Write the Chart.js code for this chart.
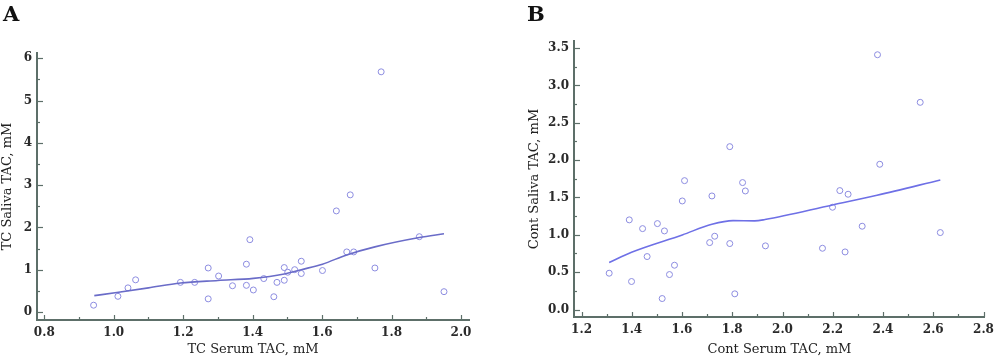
<!DOCTYPE html>
<html>
<head>
<meta charset="utf-8">
<script src="https://cdn.jsdelivr.net/npm/chart.js@4.4.1/dist/chart.umd.min.js"></script>
<style>
  html, body { margin:0; padding:0; background:#fff; }
  #wrap { position:relative; width:1000px; height:360px; overflow:hidden; }
  .panel { position:absolute; top:0; width:500px; height:360px; }
  .letter { position:absolute; top:1px; font-family:"DejaVu Serif", serif; font-weight:bold; font-size:21px; color:#111; }
</style>
</head>
<body>
<div id="wrap">
  <div class="panel" style="left:0"><canvas id="cA" width="500" height="360"></canvas></div>
  <div class="panel" style="left:500px"><canvas id="cB" width="500" height="360"></canvas></div>
  <div class="letter" style="left:3px">A</div>
  <div class="letter" style="left:527px">B</div>
</div>
<script>
// ---------- Panel A data ----------
const aSerum  = [0.942,1.012,1.041,1.063,1.192,1.233,1.272,1.272,1.302,1.342,1.382,1.382,1.392,1.402,1.432,1.461,1.470,1.491,1.491,1.501,1.521,1.540,1.540,1.601,1.641,1.671,1.681,1.691,1.752,1.770,1.880,1.951];
const aSaliva = [0.16,0.37,0.57,0.76,0.70,0.70,1.04,0.31,0.85,0.62,1.13,0.63,1.71,0.52,0.79,0.36,0.70,1.05,0.75,0.94,1.00,1.20,0.91,0.98,2.39,1.42,2.77,1.42,1.04,5.68,1.78,0.48];
const aFitX = [0.944,1.009,1.100,1.192,1.300,1.402,1.491,1.540,1.601,1.671,1.752,1.880,1.951];
const aFitY = [0.386,0.46,0.57,0.685,0.745,0.795,0.90,1.00,1.13,1.35,1.54,1.76,1.85];
const aXTicks = [0.8,1.0,1.2,1.4,1.6,1.8,2.0];
const aYTicks = [0,1,2,3,4,5,6];

// ---------- Panel B data ----------
const bSerum  = [1.310,1.390,1.399,1.443,1.461,1.502,1.530,1.521,1.550,1.570,1.601,1.610,1.710,1.719,1.730,1.790,1.790,1.810,1.841,1.852,1.932,2.159,2.199,2.228,2.249,2.261,2.317,2.378,2.387,2.548,2.628];
const bSaliva = [0.486,1.20,0.375,1.083,0.709,1.150,1.052,0.147,0.468,0.593,1.453,1.725,0.896,1.520,0.981,2.18,0.883,0.21,1.699,1.587,0.852,0.820,1.369,1.592,0.771,1.543,1.115,3.41,1.944,2.773,1.030];
const bFitX = [1.310,1.399,1.601,1.719,1.803,1.889,1.930,2.199,2.376,2.628];
const bFitY = [0.629,0.767,0.999,1.141,1.19,1.186,1.204,1.40,1.529,1.734];
const bXTicks = [1.2,1.4,1.6,1.8,2.0,2.2,2.4,2.6,2.8];
const bYTicks = [0.0,0.5,1.0,1.5,2.0,2.5,3.0,3.5];

const AXIS = '#5d6f69';
const PT = '#8c8ce0';

function pts(xs, ys){ return xs.map((x,i)=>({x:x, y:ys[i]})); }

// inward tick marks drawn through the chart's scales
const tickPlugin = {
  id:'inTicks',
  afterDraw(chart, args, opts){
    const ctx = chart.ctx, xs = chart.scales.x, ys = chart.scales.y;
    const ca = chart.chartArea;
    ctx.save();
    ctx.strokeStyle = AXIS; ctx.lineWidth = 1.2;
    const drawX = (v, len) => { const p = Math.round(xs.getPixelForValue(v))+0.5; ctx.beginPath(); ctx.moveTo(p, ca.bottom); ctx.lineTo(p, ca.bottom-len); ctx.stroke(); };
    const drawY = (v, len) => { const p = Math.round(ys.getPixelForValue(v))+0.5; ctx.beginPath(); ctx.moveTo(ca.left, p); ctx.lineTo(ca.left+len, p); ctx.stroke(); };
    opts.xMajor.forEach(v=>drawX(v,5));
    opts.yMajor.forEach(v=>drawY(v,6));
    for (let i=0;i<opts.xMajor.length-1;i++) drawX((opts.xMajor[i]+opts.xMajor[i+1])/2,3);
    for (let i=0;i<opts.yMajor.length-1;i++) drawY((opts.yMajor[i]+opts.yMajor[i+1])/2,3);
    ctx.restore();
  }
};

function makeChart(id, cfg){
  const tickFont = {family:'"DejaVu Serif", serif', size:12, weight:'bold'};
  const titleFont = {family:'"DejaVu Serif", serif', size:13};
  return new Chart(document.getElementById(id), {
    data: {
      datasets: [
        { type:'scatter', data: pts(cfg.sx, cfg.sy), pointStyle:'circle', pointRadius:3, pointBorderWidth:1,
          borderColor: PT, backgroundColor:'rgba(0,0,0,0)', showLine:false, order:2 },
        { type:'line', data: pts(cfg.fx, cfg.fy), borderColor: cfg.lineColor, borderWidth:1.6, pointRadius:0,
          fill:false, tension:0.3, cubicInterpolationMode:'monotone', order:1 }
      ]
    },
    options: {
      responsive:false, animation:false, devicePixelRatio:1,
      layout:{ padding:{ left:0, right:cfg.padRight, top:cfg.padTop, bottom:0 } },
      plugins:{ legend:{display:false}, tooltip:{enabled:false}, inTicks:{ xMajor:cfg.xTicks, yMajor:cfg.yTicks } },
      scales:{
        x:{ type:'linear', min:cfg.xMin, max:cfg.xMax,
            afterBuildTicks: s => { s.ticks = cfg.xTicks.map(v=>({value:v})); },
            afterFit: s => { s.height = cfg.xH; },
            grid:{ display:false, drawTicks:false },
            border:{ display:true, color:AXIS, width:2 },
            ticks:{ padding:6, color:'#2a2a2a', font:tickFont, callback: v => Number(v).toFixed(1) },
            title:{ display:true, text:cfg.xTitle, color:'#222', font:titleFont, padding:{top:0,bottom:3} } },
        y:{ type:'linear', min:cfg.yMin, max:cfg.yMax,
            afterBuildTicks: s => { s.ticks = cfg.yTicks.map(v=>({value:v})); },
            afterFit: s => { s.width = cfg.yW; },
            grid:{ display:false, drawTicks:false },
            border:{ display:true, color:AXIS, width:2 },
            ticks:{ padding:5, color:'#2a2a2a', font:tickFont, callback: v => cfg.yFmt(v) },
            title:{ display:true, text:cfg.yTitle, color:'#222', font:titleFont, padding:{top:cfg.yTitlePad,bottom:0} } }
      }
    },
    plugins:[tickPlugin]
  });
}

makeChart('cA', {
  sx:aSerum, sy:aSaliva, fx:aFitX, fy:aFitY, lineColor:'#6a6cc8',
  xTicks:aXTicks, yTicks:aYTicks, xMin:0.779, xMax:2.023, yMin:-0.19, yMax:6.125,
  padRight:31, padTop:53, xH:40, yW:37, yTitlePad:0,
  xTitle:'TC Serum TAC, mM', yTitle:'TC Saliva TAC, mM', yFmt: v => String(Math.round(v))
});

makeChart('cB', {
  sx:bSerum, sy:bSaliva, fx:bFitX, fy:bFitY, lineColor:'#6e70e6',
  xTicks:bXTicks, yTicks:bYTicks, xMin:1.17, xMax:2.805, yMin:-0.1, yMax:3.594,
  padRight:12, padTop:41, xH:43, yW:74, yTitlePad:27,
  xTitle:'Cont Serum TAC, mM', yTitle:'Cont Saliva TAC, mM', yFmt: v => Number(v).toFixed(1)
});
</script>
</body>
</html>
